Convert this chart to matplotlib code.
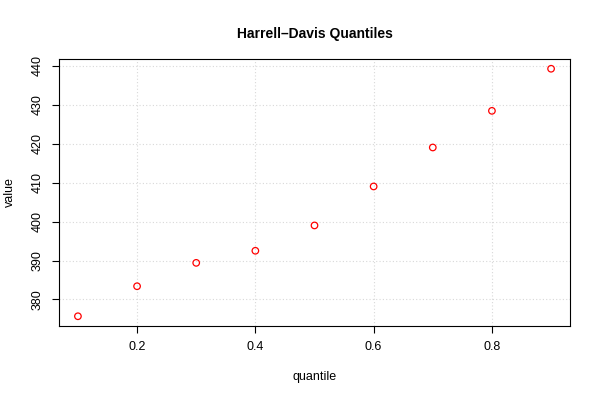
import matplotlib
matplotlib.use("Agg")
import matplotlib.pyplot as plt

# Harrell-Davis quantile estimates
quantiles = [0.1, 0.2, 0.3, 0.4, 0.5, 0.6, 0.7, 0.8, 0.9]
values = [375.7, 383.4, 389.4, 392.5, 399.0, 409.0, 419.0, 428.4, 439.2]

x_ticks = [0.2, 0.4, 0.6, 0.8]
y_ticks = [380, 390, 400, 410, 420, 430, 440]

plt.rcParams['font.family'] = ['Liberation Sans', 'DejaVu Sans']

fig = plt.figure(figsize=(6, 4), dpi=100)
ax = fig.add_axes([59 / 600, 1 - 326 / 400, 511 / 600, 267 / 400])

ax.scatter(quantiles, values, s=22, facecolors='none', edgecolors='red', linewidths=0.9, zorder=3)

ax.set_xlim(0.068, 0.932)
ax.set_ylim(373.2, 441.7)
ax.set_xticks(x_ticks)
ax.set_yticks(y_ticks)
ax.set_xticklabels([f"{t:.1f}" for t in x_ticks], fontsize=9)
ax.set_yticklabels([str(t) for t in y_ticks], fontsize=9, rotation=90, va='center')
ax.tick_params(direction='out', length=5, width=0.8, pad=6)

ax.grid(True, color='#d8d8d8', linestyle=(0, (1, 2)), linewidth=0.8)
ax.set_axisbelow(True)
for sp in ax.spines.values():
    sp.set_linewidth(0.8)
    sp.set_color('black')

ax.set_xlabel("quantile", fontsize=9, labelpad=13)
ax.set_ylabel("value", fontsize=9, labelpad=11)
ax.set_title("Harrell\u2013Davis Quantiles", fontsize=10, fontweight='bold', pad=15)

fig.savefig("out.png", dpi=100)
